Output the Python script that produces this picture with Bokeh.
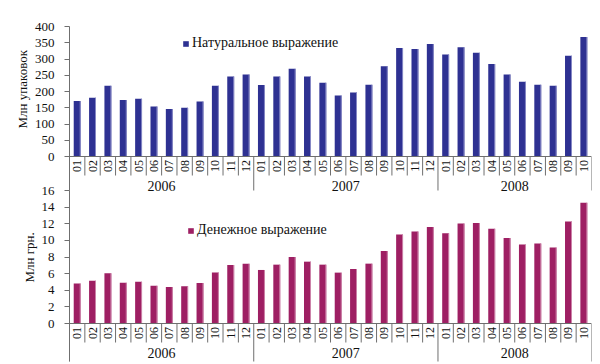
import math
from bokeh.plotting import figure
from bokeh.layouts import column
from bokeh.models import Range1d, FixedTicker, Legend, LegendItem, ColumnDataSource, Title
from bokeh.core.properties import value
from bokeh.embed import file_html
from bokeh.resources import INLINE

# ---------------- data ----------------
years = ["2006", "2007", "2008"]
months_in_year = [12, 12, 10]
month_labels = ["01", "02", "03", "04", "05", "06", "07", "08", "09", "10", "11", "12",
                "01", "02", "03", "04", "05", "06", "07", "08", "09", "10", "11", "12",
                "01", "02", "03", "04", "05", "06", "07", "08", "09", "10"]

# Натуральное выражение, млн упаковок
units = [171, 181, 218, 174, 178, 154, 146, 150, 169, 218, 246, 252,
         220, 246, 270, 246, 227, 188, 197, 221, 278, 334, 331, 346,
         314, 336, 319, 285, 252, 230, 221, 218, 310, 368]

# Денежное выражение, млн грн.
money = [4.8, 5.15, 6.05, 4.9, 5.03, 4.55, 4.4, 4.47, 4.87, 6.15, 7.04, 7.2,
         6.44, 7.08, 8.0, 7.44, 7.08, 6.12, 6.56, 7.2, 8.73, 10.7, 11.06, 11.6,
         10.86, 12.03, 12.1, 11.39, 10.3, 9.49, 9.61, 9.13, 12.27, 14.52]

units_ticks = [0, 50, 100, 150, 200, 250, 300, 350, 400]
money_ticks = [0, 2, 4, 6, 8, 10, 12, 14, 16]

units_name = "Натуральное выражение"
money_name = "Денежное выражение"
units_axis = "Млн упаковок"
money_axis = "Млн грн."

# ---------------- style ----------------
SERIF = "Liberation Serif"
BLUE = "#2E3192"
MAGENTA = "#9E1F63"
LINE = "#6f6f6f"
W = 600


def panel(vals, ticks, color, fill_hi, name, ylabel, fig_h, top_b, px_above, px_below,
          box_px, sep_px, leg_xy, label_align, label_offset):
    n = len(vals)
    ymax = ticks[-1]
    per_px = ymax / px_above
    ymin = -px_below * per_px
    p = figure(width=W, height=fig_h, x_range=Range1d(0, n), y_range=Range1d(ymin, ymax),
               output_backend="svg", toolbar_location=None, x_axis_type=None,
               min_border_left=69, min_border_right=9, min_border_top=top_b,
               min_border_bottom=0)
    p.outline_line_color = None
    p.background_fill_color = None
    p.border_fill_color = None
    p.grid.visible = False
    ax = p.yaxis[0]
    ax.ticker = FixedTicker(ticks=ticks)
    ax.bounds = (-sep_px * per_px, ymax)
    ax.major_tick_in = 0
    ax.major_tick_out = 5
    ax.minor_tick_line_color = None
    ax.axis_line_color = LINE
    ax.major_tick_line_color = LINE
    ax.major_label_text_font = SERIF
    ax.major_label_text_font_size = "13px"
    ax.major_label_text_color = "#111111"
    ax.major_label_standoff = 10

    xs = [i + 0.5 for i in range(n)]
    src = ColumnDataSource(dict(x=xs, top=vals))
    r = p.vbar(x="x", top="top", bottom=0, width=0.45, source=src,
               fill_color=color, line_color=None)
    # light right edge of each bar
    p.vbar(x=[x + 0.225 - 0.03 for x in xs], top=vals, bottom=0, width=0.06,
           fill_color=fill_hi, line_color=None)

    # category table under the axis
    p.segment(x0=[0], y0=[0], x1=[n], y1=[0], line_color=LINE, line_width=1)
    bounds = [0]
    for m in months_in_year:
        bounds.append(bounds[-1] + m)
    inner = [i for i in range(1, n) if i not in bounds]
    p.segment(x0=inner, y0=[0] * len(inner), x1=inner,
              y1=[-box_px * per_px] * len(inner), line_color=LINE, line_width=1)
    p.segment(x0=bounds, y0=[0] * len(bounds), x1=bounds,
              y1=[-sep_px * per_px] * len(bounds), line_color=LINE, line_width=1)
    p.text(x=xs, y=[-box_px / 2 * per_px] * n, text=month_labels, angle=math.pi / 2,
           text_align="center", text_baseline="middle", text_font=value(SERIF),
           text_font_size="12px", text_color="#111111")
    centers = [(bounds[i] + bounds[i + 1]) / 2 for i in range(len(years))]
    ymid = -(box_px + 10) * per_px
    p.text(x=centers, y=[ymid] * len(years), text=years, text_align="center",
           text_baseline="middle", text_font=value(SERIF), text_font_size="14px",
           text_color="#111111")

    leg = Legend(items=[LegendItem(label=name, renderers=[r])], location=leg_xy,
                 border_line_color=None, background_fill_alpha=0, glyph_width=7,
                 glyph_height=7, label_text_font=SERIF, label_text_font_size="14px",
                 label_text_color="#111111", padding=0, margin=0, spacing=0,
                 label_standoff=3, label_height=14)
    p.add_layout(leg)

    t = Title(text=ylabel, align=label_align, offset=label_offset, text_font=SERIF,
              text_font_size="13px", text_font_style="normal", text_color="#111111",
              standoff=4)
    p.add_layout(t, "left")
    return p


top = panel(units, units_ticks, BLUE, "#8d8fc9", units_name, units_axis,
            fig_h=196, top_b=26, px_above=130, px_below=40, box_px=19, sep_px=34,
            leg_xy=(113, 145), label_align="left", label_offset=68)
bot = panel(money, money_ticks, MAGENTA, "#d08aae", money_name, money_axis,
            fig_h=182, top_b=8, px_above=133, px_below=41, box_px=19, sep_px=38,
            leg_xy=(118, 126), label_align="left", label_offset=82)
bot.styles = {"margin-top": "-14px"}

layout = column(top, bot, spacing=0)
open("out.html", "w").write(file_html(layout, INLINE))
